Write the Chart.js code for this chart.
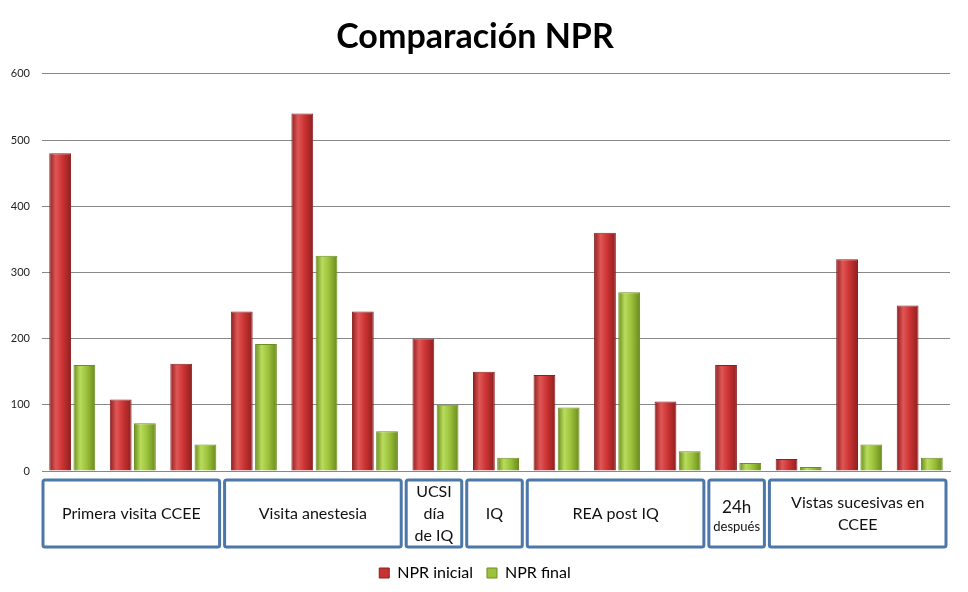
<!DOCTYPE html>
<html>
<head>
<meta charset="utf-8">
<script src="https://cdn.jsdelivr.net/npm/chart.js@4/dist/chart.umd.min.js"></script>
<style>
  html, body { margin: 0; padding: 0; background: #fff; }
  #wrap { width: 968px; height: 592px; }
</style>
</head>
<body>
<div id="wrap"><canvas id="chart" width="968" height="592"></canvas></div>
<script>
// data
const categories = ['1', '2', '3', '4', '5', '6', '7', '8', '9', '10', '11', '12', '13', '14', '15'];
const nprInicial = [480, 108, 162, 241, 540, 241, 200, 150, 145, 360, 105, 160, 18, 320, 250];
const nprFinal = [160, 72, 40, 192, 325, 60, 100, 20, 96, 270, 30, 12, 6, 40, 20];
const yTicks = [0, 100, 200, 300, 400, 500, 600];

// phase boxes under the axis: [first category, last category, lines]
const groupFrom = [0, 3, 6, 7, 8, 11, 12];
const groupTo = [2, 5, 6, 7, 10, 11, 14];
const groupLabels = [
  ['Primera visita CCEE'],
  ['Visita anestesia'],
  ['UCSI', 'día', 'de IQ'],
  ['IQ'],
  ['REA post IQ'],
  ['24h', 'después'],
  ['Vistas sucesivas en', 'CCEE']
];

const FONT = 'Lato, "Noto Sans", sans-serif';

// 3D-ish look: horizontal gradient across each bar
function barFill(edge, mid, light, side) {
  return (ctx) => {
    const chart = ctx.chart;
    const x = chart.scales.x;
    if (!x || ctx.dataIndex === undefined) return mid;
    const catW = (x.right - x.left) / categories.length;
    const w = catW * 0.8 / 2 * 0.9;
    const c = x.getPixelForValue(ctx.dataIndex) + side * catW * 0.8 / 4;
    const g = chart.ctx.createLinearGradient(c - w / 2, 0, c + w / 2, 0);
    g.addColorStop(0, edge);
    g.addColorStop(0.3, light);
    g.addColorStop(0.6, mid);
    g.addColorStop(1, edge);
    return g;
  };
}

const boxPlugin = {
  id: 'phaseBoxes',
  afterDraw(chart) {
    const x = chart.scales.x;
    const ctx = chart.ctx;
    const catW = (x.right - x.left) / categories.length;
    const top = x.top + 9, bottom = x.top + 76;
    ctx.save();
    groupLabels.forEach((lines, k) => {
      const l = x.getPixelForValue(groupFrom[k]) - catW / 2 + 1;
      const r = x.getPixelForValue(groupTo[k]) + catW / 2 - 4;
      ctx.lineWidth = 3;
      ctx.strokeStyle = '#4c77a8';
      ctx.beginPath();
      ctx.roundRect(l, top, r - l, bottom - top, 2);
      ctx.stroke();
      ctx.fillStyle = '#111';
      ctx.textAlign = 'center';
      ctx.textBaseline = 'middle';
      const cx = (l + r) / 2;
      const cy = (top + bottom) / 2;
      if (lines.length === 3) {
        ctx.font = '16px ' + FONT;
        lines.forEach((t, i) => ctx.fillText(t, cx, cy + (i - 1) * 22));
      } else if (lines[0] === '24h') {
        ctx.font = '17px ' + FONT;
        ctx.fillText(lines[0], cx, cy - 6);
        ctx.font = '13px ' + FONT;
        ctx.fillText(lines[1], cx, cy + 13);
      } else if (lines.length === 2) {
        ctx.font = '16px ' + FONT;
        ctx.fillText(lines[0], cx, cy - 11);
        ctx.fillText(lines[1], cx, cy + 11);
      } else {
        ctx.font = '16px ' + FONT;
        ctx.fillText(lines[0], cx, cy);
      }
    });
    ctx.restore();
  }
};

new Chart(document.getElementById('chart'), {
  type: 'bar',
  data: {
    labels: categories,
    datasets: [{
      label: 'NPR inicial',
      data: nprInicial,
      backgroundColor: barFill('#8e1f1f', '#cc3333', '#e05656', -1),
      borderColor: '#8a2020',
      borderWidth: 1,
      categoryPercentage: 0.8,
      barPercentage: 0.9
    }, {
      label: 'NPR final',
      data: nprFinal,
      backgroundColor: barFill('#6a8a1c', '#9cc23c', '#b8dc5c', 1),
      borderColor: '#6d8e22',
      borderWidth: 1,
      categoryPercentage: 0.8,
      barPercentage: 0.9
    }]
  },
  options: {
    responsive: false,
    animation: false,
    layout: { padding: { top: 12, right: 18, left: 0, bottom: 1 } },
    plugins: {
      title: {
        display: true,
        text: 'Comparación NPR',
        color: '#000',
        font: { family: FONT, size: 34, weight: 'bold' },
        padding: { top: 5, bottom: 16 }
      },
      legend: {
        position: 'bottom',
        labels: {
          color: '#111',
          font: { family: FONT, size: 16 },
          boxWidth: 10,
          boxHeight: 10,
          padding: 14,
          generateLabels: (chart) => chart.data.datasets.map((ds, i) => ({
            text: ds.label,
            fillStyle: i === 0 ? '#c83232' : '#9cc23c',
            strokeStyle: i === 0 ? '#8a2020' : '#6d8e22',
            lineWidth: 1,
            datasetIndex: i
          }))
        }
      },
      tooltip: { enabled: false }
    },
    scales: {
      x: {
        ticks: { display: false },
        grid: { display: false },
        border: { display: true, color: '#888', width: 1 },
        afterFit: (s) => { s.height = 80; }
      },
      y: {
        min: 0,
        max: 600,
        afterBuildTicks: (s) => { s.ticks = yTicks.map(v => ({ value: v })); },
        ticks: {
          color: '#222',
          font: { family: FONT, size: 11 },
          padding: 12
        },
        grid: { color: '#888', drawTicks: false },
        border: { display: false },
        afterFit: (s) => { s.width = 42; }
      }
    }
  },
  plugins: [boxPlugin]
});
</script>
</body>
</html>
